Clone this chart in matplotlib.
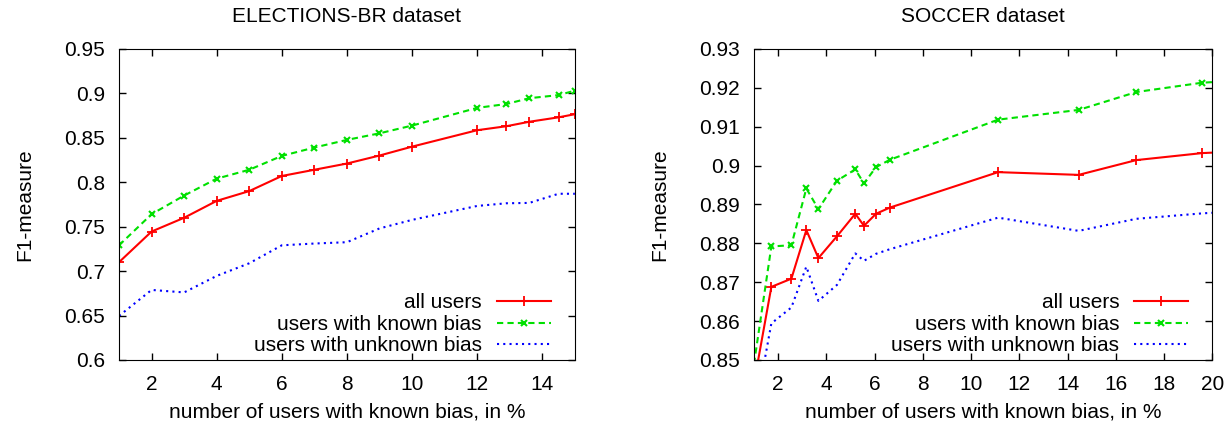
import matplotlib
matplotlib.use("Agg")
from matplotlib import pyplot as plt

plt.rcParams['font.family'] = ['Liberation Sans', 'DejaVu Sans']
plt.rcParams['font.size'] = 15

# ELECTIONS-BR dataset
br_x = [1, 2, 3, 4, 5, 6, 7, 8, 9, 10, 12, 12.9, 13.6, 14.5, 15]
br_all = [0.710, 0.7445, 0.760, 0.779, 0.790, 0.807, 0.814, 0.821, 0.830, 0.840,
          0.8585, 0.863, 0.868, 0.873, 0.8765]
br_known = [0.729, 0.764, 0.785, 0.804, 0.814, 0.8296, 0.839, 0.8476, 0.855, 0.8637,
            0.8836, 0.888, 0.8945, 0.898, 0.903]
br_unknown = [0.6496, 0.6788, 0.676, 0.6946, 0.7088, 0.729, 0.731, 0.7325, 0.748, 0.7576,
              0.7733, 0.7763, 0.7767, 0.787, 0.787]

# SOCCER dataset
soc_x = [1, 1.72, 2.55, 3.17, 3.67, 4.44, 5.20, 5.56, 6.06, 6.64, 11.12, 14.46, 16.85, 19.58, 21]
soc_all = [0.844, 0.8688, 0.8709, 0.8834, 0.8762, 0.8818, 0.8876, 0.8845, 0.8876, 0.8892,
           0.8983, 0.8976, 0.9014, 0.9032, 0.9036]
soc_known = [0.849, 0.8792, 0.8795, 0.8941, 0.8888, 0.8961, 0.8990, 0.8954, 0.8996, 0.9015,
             0.9118, 0.9143, 0.9189, 0.9213, 0.9218]
soc_unknown = [0.835, 0.8594, 0.8635, 0.874, 0.8652, 0.8693, 0.8774, 0.8755, 0.8773, 0.8785,
               0.8866, 0.8832, 0.8863, 0.8877, 0.8882]

labels = ["all users", "users with known bias", "users with unknown bias"]


def draw(ax, x, a, k, u, title, xlim, ylim, xticks, yticks, yfmt):
    ax.plot(x, a, color='#ff0000', lw=1.5, marker='+', ms=7, mew=1.3, label=labels[0])
    ax.plot(x, k, color='#00e000', lw=1.5, ls=(0, (3, 2)), marker='x', ms=5, mew=1.5, label=labels[1])
    ax.plot(x, u, color='#0000ff', lw=1.5, ls=(0, (1, 2)), label=labels[2])
    ax.set_xlim(*xlim)
    ax.set_ylim(*ylim)
    ax.set_xticks(xticks)
    ax.set_yticks(yticks)
    ax.set_yticklabels([yfmt(v) for v in yticks])
    ax.tick_params(axis='y', direction='in', right=True, length=5, width=1, pad=10)
    ax.tick_params(axis='x', direction='in', top=True, length=5, width=1, pad=11)
    ax.set_title(title, fontsize=15, pad=19)
    ax.set_ylabel("F1-measure", labelpad=22)
    ax.set_xlabel("number of users with known bias, in %", labelpad=6)
    ax.legend(loc='lower right', frameon=False, markerfirst=False, handlelength=2.6,
              handletextpad=0.7, labelspacing=0.12, borderpad=0, borderaxespad=0,
              bbox_to_anchor=(0.947, 0.015))


def fmt(v):
    s = ("%.2f" % v).rstrip('0')
    return s.rstrip('.') if s.endswith('.') else s


fig = plt.figure(figsize=(12.32, 4.25), dpi=100)
ax1 = fig.add_axes([0.0966, 0.153, 0.370, 0.732])
ax2 = fig.add_axes([0.612, 0.153, 0.372, 0.732])

draw(ax1, br_x, br_all, br_known, br_unknown, "ELECTIONS-BR dataset", (1, 15), (0.6, 0.95),
     [2, 4, 6, 8, 10, 12, 14], [0.6 + 0.05 * i for i in range(8)], fmt)
draw(ax2, soc_x, soc_all, soc_known, soc_unknown, "SOCCER dataset", (1, 20), (0.85, 0.93),
     [2, 4, 6, 8, 10, 12, 14, 16, 18, 20], [0.85 + 0.01 * i for i in range(9)], fmt)

fig.savefig("out.png", dpi=100)
